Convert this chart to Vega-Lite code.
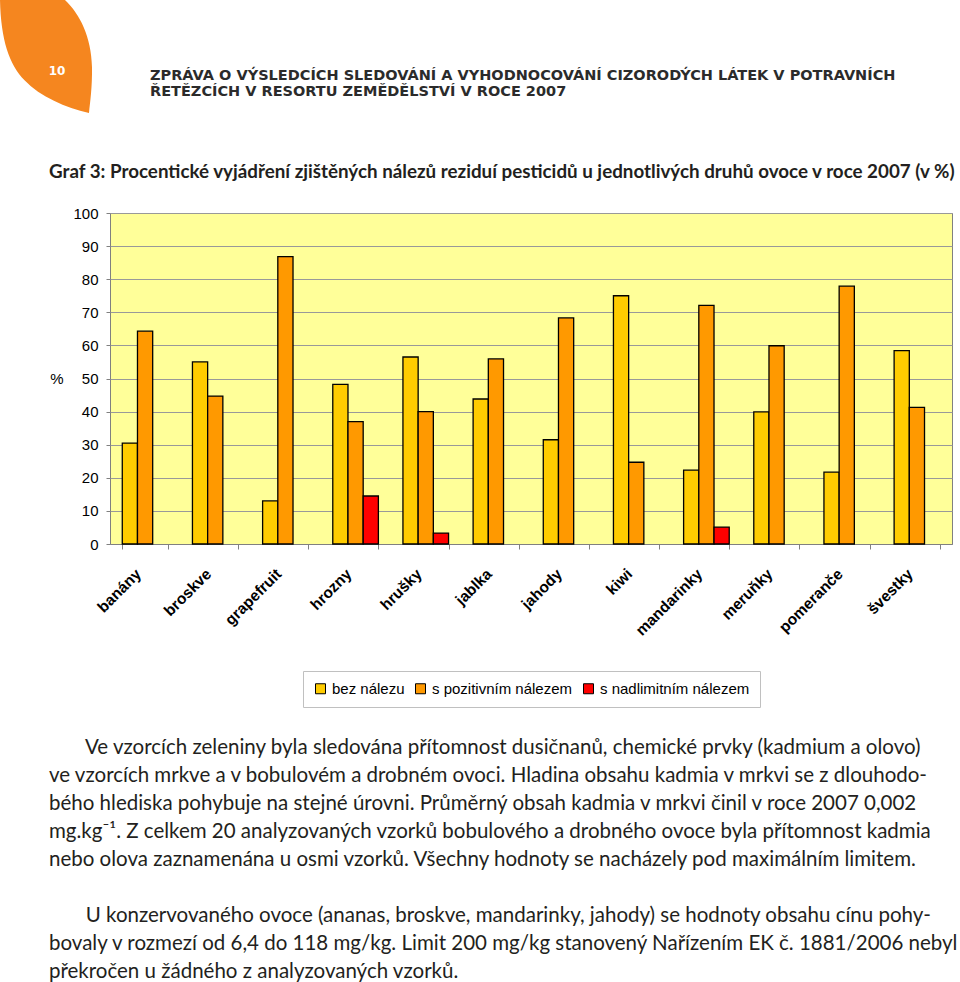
{
  "$schema": "https://vega.github.io/schema/vega-lite/v6.json",
  "padding": 0,
  "autosize": {"type": "pad"},
  "background": "white",
  "bounds": "flush",
  "spacing": 100,
  "vconcat": [
    {
      "width": 2,
      "height": 113,
      "data": {"values": [{"page": "10"}]},
      "view": {"stroke": null},
      "title": {
        "text": ["ZPRÁVA O VÝSLEDCÍCH SLEDOVÁNÍ A VYHODNOCOVÁNÍ CIZORODÝCH LÁTEK V POTRAVNÍCH", "ŘETĚZCÍCH  V RESORTU ZEMĚDĚLSTVÍ V ROCE 2007"],
        "anchor": "start",
        "frame": "group",
        "align": "left",
        "dx": 40,
        "dy": 110,
        "offset": 0,
        "baseline": "alphabetic",
        "font": "DejaVu Sans",
        "fontSize": 14.5,
        "fontWeight": "bold",
        "color": "#2b2b2b",
        "lineHeight": 16
      },
      "layer": [
        {
          "mark": {"type": "point", "shape": "M-0.814,-1 L0.336,-1 C0.6,-0.75 0.8,-0.35 0.814,0.186 C0.82,0.55 0.78,0.8 0.761,1 C0.35,0.9 -0.1,0.72 -0.38,0.42 C-0.65,0.15 -0.8,-0.3 -0.814,-1 Z", "size": 12769, "filled": true, "fill": "#F5861F", "strokeWidth": 0, "opacity": 1, "xOffset": -65},
          "encoding": {}
        },
        {
          "mark": {"type": "text", "font": "DejaVu Sans", "fontWeight": "bold", "fontSize": 12, "color": "white", "xOffset": -54, "yOffset": 14, "baseline": "middle", "align": "center"},
          "encoding": {"text": {"field": "page"}}
        }
      ]
    },
    {
      "width": 842,
      "height": 331,
      "view": {"fill": "#FFFF99", "stroke": "#808080"},
      "title": {
        "text": "Graf 3: Procentické vyjádření zjištěných nálezů reziduí pesticidů u jednotlivých druhů ovoce v roce 2007 (v %)",
        "anchor": "start",
        "frame": "group",
        "align": "left",
        "dx": -61,
        "offset": 9,
        "baseline": "alphabetic",
        "font": "Lato",
        "fontSize": 18.8,
        "fontWeight": "bold",
        "color": "#231f20"
      },
      "data": {
        "values": [
          {"fruit": "banány", "series": "bez nálezu", "value": 30.5},
          {"fruit": "banány", "series": "s pozitivním nálezem", "value": 64.3},
          {"fruit": "broskve", "series": "bez nálezu", "value": 55.0},
          {"fruit": "broskve", "series": "s pozitivním nálezem", "value": 44.7},
          {"fruit": "grapefruit", "series": "bez nálezu", "value": 13.0},
          {"fruit": "grapefruit", "series": "s pozitivním nálezem", "value": 86.8},
          {"fruit": "hrozny", "series": "bez nálezu", "value": 48.2},
          {"fruit": "hrozny", "series": "s pozitivním nálezem", "value": 37.0},
          {"fruit": "hrozny", "series": "s nadlimitním nálezem", "value": 14.5},
          {"fruit": "hrušky", "series": "bez nálezu", "value": 56.5},
          {"fruit": "hrušky", "series": "s pozitivním nálezem", "value": 40.0},
          {"fruit": "hrušky", "series": "s nadlimitním nálezem", "value": 3.3},
          {"fruit": "jablka", "series": "bez nálezu", "value": 43.8},
          {"fruit": "jablka", "series": "s pozitivním nálezem", "value": 55.9},
          {"fruit": "jahody", "series": "bez nálezu", "value": 31.5},
          {"fruit": "jahody", "series": "s pozitivním nálezem", "value": 68.3},
          {"fruit": "kiwi", "series": "bez nálezu", "value": 75.0},
          {"fruit": "kiwi", "series": "s pozitivním nálezem", "value": 24.7},
          {"fruit": "mandarinky", "series": "bez nálezu", "value": 22.3},
          {"fruit": "mandarinky", "series": "s pozitivním nálezem", "value": 72.1},
          {"fruit": "mandarinky", "series": "s nadlimitním nálezem", "value": 5.1},
          {"fruit": "meruňky", "series": "bez nálezu", "value": 39.9},
          {"fruit": "meruňky", "series": "s pozitivním nálezem", "value": 59.9},
          {"fruit": "pomeranče", "series": "bez nálezu", "value": 21.7},
          {"fruit": "pomeranče", "series": "s pozitivním nálezem", "value": 77.9},
          {"fruit": "švestky", "series": "bez nálezu", "value": 58.4},
          {"fruit": "švestky", "series": "s pozitivním nálezem", "value": 41.3}
        ]
      },
      "mark": {"type": "bar", "stroke": "black", "strokeWidth": 1.3, "opacity": 1},
      "encoding": {
        "x": {
          "field": "fruit",
          "type": "nominal",
          "sort": ["banány", "broskve", "grapefruit", "hrozny", "hrušky", "jablka", "jahody", "kiwi", "mandarinky", "meruňky", "pomeranče", "švestky"],
          "scale": {"paddingInner": 0.35, "paddingOuter": 0.175},
          "axis": {
            "title": null,
            "labelAngle": -45,
            "labelAlign": "right",
            "labelBaseline": "middle",
            "labelFont": "Liberation Sans",
            "labelFontWeight": "bold",
            "labelFontSize": 15.5,
            "labelColor": "black",
            "labelPadding": 22,
            "labelOffset": -7,
            "labelOverlap": false,
            "tickSize": 5,
            "tickColor": "#808080",
            "tickBand": "extent",
            "domainColor": "#808080",
            "grid": false
          }
        },
        "xOffset": {
          "field": "series",
          "type": "nominal",
          "sort": ["bez nálezu", "s pozitivním nálezem", "s nadlimitním nálezem"],
          "scale": {"paddingInner": 0, "paddingOuter": 0}
        },
        "y": {
          "field": "value",
          "type": "quantitative",
          "scale": {"domain": [0, 100], "nice": false},
          "axis": {
            "values": [0, 10, 20, 30, 40, 50, 60, 70, 80, 90, 100],
            "title": "%",
            "titleAngle": 0,
            "titleAlign": "right",
            "titleBaseline": "middle",
            "titleFont": "Liberation Sans",
            "titleFontSize": 15,
            "titleFontWeight": "normal",
            "titleColor": "black",
            "titlePadding": 10,
            "labelFont": "Liberation Sans",
            "labelFontSize": 15,
            "labelColor": "black",
            "labelPadding": 8,
            "tickSize": 4,
            "tickColor": "#808080",
            "domain": false,
            "grid": true,
            "gridColor": "#999999",
            "gridWidth": 1
          }
        },
        "color": {
          "field": "series",
          "type": "nominal",
          "scale": {"domain": ["bez nálezu", "s pozitivním nálezem", "s nadlimitním nálezem"], "range": ["#FFCC00", "#FF9900", "#FF0000"]},
          "legend": {
            "title": null,
            "orient": "none",
            "legendX": 193,
            "legendY": 671,
            "direction": "horizontal",
            "symbolType": "square",
            "symbolSize": 100,
            "symbolStrokeColor": "black",
            "symbolStrokeWidth": 1,
            "symbolOpacity": 1,
            "labelFont": "Liberation Sans",
            "labelFontSize": 15,
            "labelColor": "black",
            "labelOffset": 4,
            "columnPadding": 8,
            "padding": 10,
            "strokeColor": "#c0c0c0"
          }
        }
      }
    },
    {
      "width": 842,
      "height": 40,
      "data": {"values": []},
      "mark": "text",
      "view": {"stroke": null},
      "title": {
        "text": [
          "\u200b\u00a0\u00a0\u00a0\u00a0\u00a0\u00a0\u00a0Ve vzorcích zeleniny byla sledována přítomnost dusičnanů, chemické prvky (kadmium a olovo)",
          "ve vzorcích mrkve a v bobulovém a drobném ovoci. Hladina obsahu kadmia v mrkvi se z dlouhodo-",
          "bého hlediska pohybuje na stejné úrovni. Průměrný obsah kadmia v mrkvi činil v roce 2007 0,002",
          "mg.kg⁻¹. Z celkem 20 analyzovaných vzorků bobulového a drobného ovoce byla přítomnost kadmia",
          "nebo olova zaznamenána u osmi vzorků. Všechny hodnoty se nacházely pod maximálním limitem.",
          "\u200b",
          "\u200b\u00a0\u00a0\u00a0\u00a0\u00a0\u00a0\u00a0U konzervovaného ovoce (ananas, broskve, mandarinky, jahody) se hodnoty obsahu cínu pohy-",
          "bovaly v rozmezí od 6,4 do 118 mg/kg. Limit 200 mg/kg stanovený Nařízením EK č. 1881/2006 nebyl",
          "překročen u žádného z analyzovaných vzorků."
        ],
        "anchor": "start",
        "frame": "group",
        "align": "left",
        "dx": -61,
        "dy": 339,
        "offset": 0,
        "baseline": "top",
        "font": "Lato",
        "fontSize": 20.5,
        "fontWeight": "normal",
        "color": "#231f20",
        "lineHeight": 28.1
      }
    }
  ],
  "config": {
    "view": {"stroke": null},
    "font": "Liberation Sans"
  }
}
